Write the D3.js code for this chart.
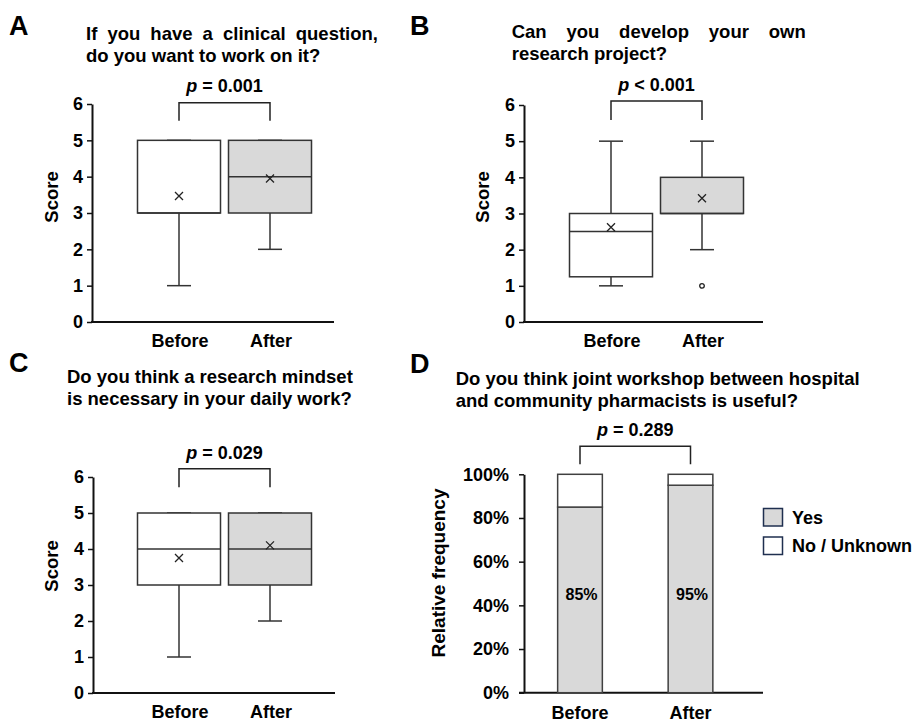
<!DOCTYPE html>
<html>
<head>
<meta charset="utf-8">
<script src="https://cdn.jsdelivr.net/npm/d3@7"></script>
<style>
  body { margin: 0; background: #fff; }
  svg { display: block; font-family: "Liberation Sans", Arial, sans-serif; font-weight: bold; }
</style>
</head>
<body>
<svg id="chart"></svg>
<script>
// ---- data ----
const groups = ["Before", "After"];
const scoreTicks = [0, 1, 2, 3, 4, 5, 6];
const pctTicks = [0, 20, 40, 60, 80, 100];

const boxA = [
  { min: 1, q1: 3, median: 3, q3: 5, max: 5, mean: 3.47, outliers: [] },
  { min: 2, q1: 3, median: 4, q3: 5, max: 5, mean: 3.95, outliers: [] }
];
const boxB = [
  { min: 1, q1: 1.25, median: 2.5, q3: 3, max: 5, mean: 2.62, outliers: [] },
  { min: 2, q1: 3, median: 3, q3: 4, max: 5, mean: 3.42, outliers: [1] }
];
const boxC = [
  { min: 1, q1: 3, median: 4, q3: 5, max: 5, mean: 3.75, outliers: [] },
  { min: 2, q1: 3, median: 4, q3: 5, max: 5, mean: 4.1, outliers: [] }
];
const yesPct = [85, 95];
const noPct = [15, 5];
const legendLabels = ["Yes", "No / Unknown"];
const pTexts = ["= 0.001", "< 0.001", "= 0.029", "= 0.289"];

const titleA = ["If you have a clinical question,", "do you want to work on it?"];
const titleB = ["Can you develop your own", "research project?"];
const titleC = ["Do you think a research mindset", "is necessary in your daily work?"];
const titleD = ["Do you think joint workshop between hospital", "and community pharmacists is useful?"];

const W = 919, H = 723;
const GRAY = "#d9d9d9", LINE = "#333";

const svg = d3.select("#chart").attr("width", W).attr("height", H);

function justify(words, x0, x1, y) {
  const nodes = words.map(w => svg.append("text").attr("y", y).attr("font-size", 18.5).text(w));
  const widths = nodes.map(n => n.node().getComputedTextLength());
  const gap = (x1 - x0 - d3.sum(widths)) / (words.length - 1);
  let x = x0;
  nodes.forEach((n, i) => { n.attr("x", x); x += widths[i] + gap; });
}

function title(lines, x, y0, justifyTo) {
  lines.forEach((l, i) => {
    if (i === 0 && justifyTo) justify(l.split(" "), x, justifyTo, y0);
    else svg.append("text").attr("x", x).attr("y", y0 + i * 22).attr("font-size", 18.5).text(l);
  });
}

function letter(t, x, y) {
  svg.append("text").attr("x", x).attr("y", y).attr("font-size", 27).text(t);
}

function styleAxis(ax, fs) {
  ax.attr("font-family", null).attr("font-size", fs).attr("font-weight", "bold");
  ax.select(".domain").attr("stroke", "#111").attr("stroke-width", 2);
  ax.selectAll(".tick line").attr("stroke", "#111").attr("stroke-width", 1.5);
  ax.selectAll(".tick text").attr("fill", "#000");
}

function yLabel(t, x, y, fs) {
  svg.append("text")
    .attr("transform", `translate(${x},${y}) rotate(-90)`)
    .attr("text-anchor", "middle").attr("dominant-baseline", "central")
    .attr("font-size", fs).text(t);
}

function bracket(x, x0, x1, top, bottom, pText, pY) {
  svg.append("path")
    .attr("d", `M${x(x0)},${bottom}V${top}H${x(x1)}V${bottom}`)
    .attr("fill", "none").attr("stroke", "#222").attr("stroke-width", 1.5);
  const t = svg.append("text")
    .attr("x", (x(x0) + x(x1)) / 2).attr("y", pY)
    .attr("text-anchor", "middle").attr("font-size", 18);
  t.append("tspan").attr("font-style", "italic").text("p");
  t.append("tspan").text(" " + pText);
}

function boxPanel(cfg, stats, pText) {
  const y = d3.scaleLinear().domain([0, 6]).range([cfg.oy, cfg.top]);
  const x = d3.scalePoint().domain(groups).range(cfg.centers);
  const bw = 83, cap = 12;

  const ax = svg.append("g").attr("transform", `translate(${cfg.ox},0)`)
    .call(d3.axisLeft(y).tickValues(scoreTicks).tickFormat(d3.format("d"))
      .tickSize(5).tickSizeOuter(0).tickPadding(4));
  styleAxis(ax, 18);
  svg.append("line").attr("x1", cfg.ox - 1).attr("x2", cfg.right)
    .attr("y1", cfg.oy).attr("y2", cfg.oy).attr("stroke", "#111").attr("stroke-width", 2);

  const g = svg.append("g").selectAll("g").data(stats).join("g")
    .attr("transform", (d, i) => `translate(${x(groups[i])},0)`);

  g.append("line").attr("y1", d => y(d.min)).attr("y2", d => y(d.q1))
    .attr("stroke", LINE).attr("stroke-width", 1.5);
  g.append("line").attr("y1", d => y(d.q3)).attr("y2", d => y(d.max))
    .attr("stroke", LINE).attr("stroke-width", 1.5);
  g.append("line").attr("x1", -cap).attr("x2", cap).attr("y1", d => y(d.min)).attr("y2", d => y(d.min))
    .attr("stroke", LINE).attr("stroke-width", 1.5);
  g.append("line").attr("x1", -cap).attr("x2", cap).attr("y1", d => y(d.max)).attr("y2", d => y(d.max))
    .attr("stroke", LINE).attr("stroke-width", 1.5);
  g.append("rect").attr("x", -bw / 2).attr("width", bw)
    .attr("y", d => y(d.q3)).attr("height", d => y(d.q1) - y(d.q3))
    .attr("fill", (d, i) => i === 0 ? "#fff" : GRAY)
    .attr("stroke", LINE).attr("stroke-width", 1.5);
  g.append("line").attr("x1", -bw / 2).attr("x2", bw / 2)
    .attr("y1", d => y(d.median)).attr("y2", d => y(d.median))
    .attr("stroke", LINE).attr("stroke-width", 1.5);
  g.append("path")
    .attr("d", d => { const m = y(d.mean); return `M-4,${m - 4}L4,${m + 4}M-4,${m + 4}L4,${m - 4}`; })
    .attr("stroke", "#222").attr("stroke-width", 1.3);
  g.selectAll("circle").data(d => d.outliers).join("circle")
    .attr("cy", d => y(d)).attr("r", 2.3)
    .attr("fill", "#fff").attr("stroke", "#222").attr("stroke-width", 1.3);

  svg.append("g").selectAll("text").data(groups).join("text")
    .attr("x", d => x(d) + 1).attr("y", cfg.oy + 25)
    .attr("text-anchor", "middle").attr("font-size", 18).text(d => d);

  bracket(x, groups[0], groups[1], y(6) + cfg.br[0], y(6) + cfg.br[1], pText, y(6) + cfg.br[2]);
}

// ---- Panel A ----
letter("A", 9, 35);
title(titleA, 86, 39.5, 378);
boxPanel({ ox: 92, oy: 322, top: 104, right: 334, centers: [179, 270], br: [-1.3, 16.7, -12] }, boxA, pTexts[0]);
yLabel("Score", 51, 197, 18.5);

// ---- Panel B ----
letter("B", 410, 35);
title(titleB, 511.7, 37.5, 805.7);
boxPanel({ ox: 524, oy: 322, top: 105, right: 763, centers: [611, 702], br: [-4, 15, -14] }, boxB, pTexts[1]);
yLabel("Score", 482.5, 197, 18.5);

// ---- Panel C ----
letter("C", 9, 372);
title(titleC, 67, 383);
boxPanel({ ox: 93, oy: 693, top: 477, right: 335, centers: [179, 270], br: [-8.3, 10.3, -18] }, boxC, pTexts[2]);
yLabel("Score", 51, 566, 18.5);

// ---- Panel D ----
letter("D", 410, 373);
title(titleD, 455.7, 385);
(function () {
  const oy = 692.7, top = 474.3, ox = 524, right = 763;
  const y = d3.scaleLinear().domain([0, 100]).range([oy, top]);
  const x = d3.scalePoint().domain(groups).range([580, 690.5]);
  const bw = 44.7;

  const ax = svg.append("g").attr("transform", `translate(${ox},0)`)
    .call(d3.axisLeft(y).tickValues(pctTicks).tickSize(5).tickSizeOuter(0).tickPadding(10)
      .tickFormat(d => d + "%"));
  styleAxis(ax, 18);
  svg.append("line").attr("x1", ox - 5).attr("x2", right)
    .attr("y1", oy).attr("y2", oy).attr("stroke", "#111").attr("stroke-width", 2);

  const g = svg.append("g").selectAll("g").data(groups).join("g")
    .attr("transform", d => `translate(${x(d) - bw / 2},0)`);
  g.append("rect").attr("width", bw)
    .attr("y", (d, i) => y(yesPct[i])).attr("height", (d, i) => oy - y(yesPct[i]))
    .attr("fill", GRAY).attr("stroke", "#404040").attr("stroke-width", 1.5);
  g.append("rect").attr("width", bw)
    .attr("y", (d, i) => y(yesPct[i] + noPct[i])).attr("height", (d, i) => y(yesPct[i]) - y(yesPct[i] + noPct[i]))
    .attr("fill", "#fff").attr("stroke", "#404040").attr("stroke-width", 1.5);
  g.append("text").attr("x", bw / 2 + 1.5).attr("y", y(45))
    .attr("text-anchor", "middle").attr("dominant-baseline", "central")
    .attr("font-size", 16).text((d, i) => yesPct[i] + "%");

  svg.append("g").selectAll("text").data(groups).join("text")
    .attr("x", d => x(d)).attr("y", oy + 26)
    .attr("text-anchor", "middle").attr("font-size", 18).text(d => d);

  bracket(x, groups[0], groups[1], y(100) - 28, y(100) - 10, pTexts[3], y(100) - 38);

  const lg = svg.append("g").selectAll("g").data(legendLabels).join("g")
    .attr("transform", (d, i) => `translate(763.5,${508.5 + i * 28.5})`);
  lg.append("rect").attr("width", 19).attr("height", 17.5)
    .attr("fill", (d, i) => i === 0 ? GRAY : "#fff")
    .attr("stroke", "#1f2f4f").attr("stroke-width", 1.5);
  lg.append("text").attr("x", 28.5).attr("y", 9).attr("dominant-baseline", "central")
    .attr("font-size", 18).text(d => d);

  yLabel("Relative frequency", 438, 573, 19);
})();
</script>
</body>
</html>
